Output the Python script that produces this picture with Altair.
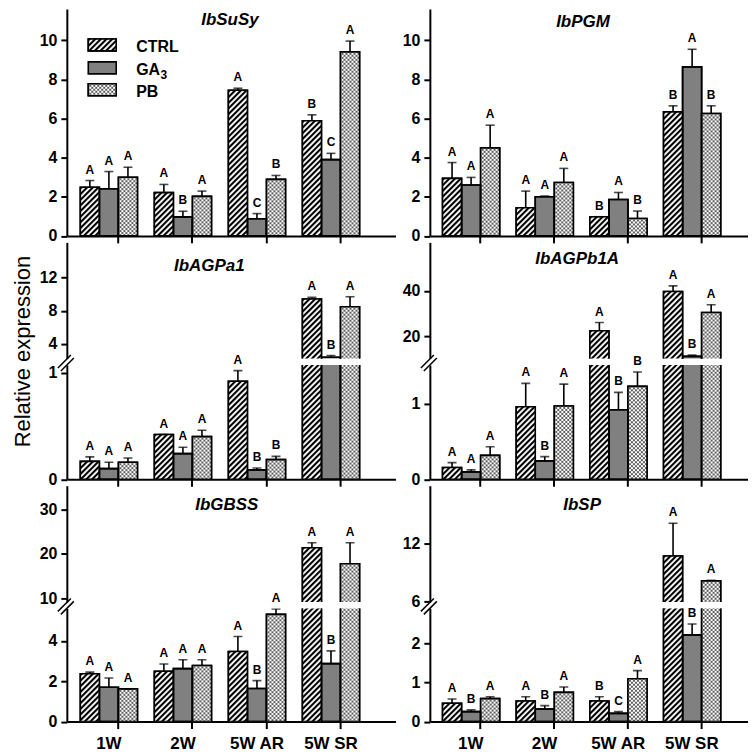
import base64
import altair as alt
import pandas as pd

# ---------------- data ----------------
groups = ["1W", "2W", "5W AR", "5W SR"]
series = ["CTRL", "GA3", "PB"]
legend_labels = ["CTRL", "GA", "PB"]
legend_subs = ["", "3", ""]
genes = ["IbSuSy", "IbPGM", "IbAGPa1", "IbAGPb1A", "IbGBSS", "IbSP"]

# IbSuSy
susy_ctrl = [2.49, 2.21, 7.45, 5.89]
susy_ga3 = [2.41, 0.97, 0.88, 3.90]
susy_pb = [3.00, 2.02, 2.89, 9.41]
susy_se_ctrl = [0.34, 0.42, 0.10, 0.30]
susy_se_ga3 = [0.88, 0.29, 0.26, 0.32]
susy_se_pb = [0.51, 0.27, 0.20, 0.55]
susy_let_ctrl = ["A", "A", "A", "B"]
susy_let_ga3 = ["A", "B", "C", "C"]
susy_let_pb = ["A", "A", "B", "A"]

# IbPGM
pgm_ctrl = [2.94, 1.44, 0.98, 6.34]
pgm_ga3 = [2.60, 2.00, 1.86, 8.64]
pgm_pb = [4.50, 2.73, 0.89, 6.26]
pgm_se_ctrl = [0.81, 0.85, 0.0, 0.31]
pgm_se_ga3 = [0.39, 0.04, 0.36, 0.90]
pgm_se_pb = [1.16, 0.72, 0.38, 0.39]
pgm_let_ctrl = ["A", "A", "B", "B"]
pgm_let_ga3 = ["A", "A", "A", "A"]
pgm_let_pb = ["A", "A", "B", "B"]

# IbAGPa1
agpa_ctrl = [0.168, 0.42, 0.92, 9.41]
agpa_ga3 = [0.10, 0.24, 0.088, 2.39]
agpa_pb = [0.16, 0.40, 0.184, 8.48]
agpa_se_ctrl = [0.042, 0.0, 0.10, 0.19]
agpa_se_ga3 = [0.06, 0.06, 0.018, 0.21]
agpa_se_pb = [0.04, 0.06, 0.031, 1.20]
agpa_let_ctrl = ["A", "A", "A", "A"]
agpa_let_ga3 = ["A", "A", "B", "B"]
agpa_let_pb = ["A", "A", "B", "A"]

# IbAGPb1A
agpb_ctrl = [0.155, 0.96, 22.5, 39.7]
agpb_ga3 = [0.098, 0.243, 0.92, 11.25]
agpb_pb = [0.316, 0.97, 1.23, 30.5]
agpb_se_ctrl = [0.065, 0.31, 3.6, 2.5]
agpb_se_ga3 = [0.026, 0.057, 0.23, 0.55]
agpb_se_pb = [0.114, 0.29, 0.19, 3.4]
agpb_let_ctrl = ["A", "A", "A", "A"]
agpb_let_ga3 = ["A", "B", "B", "B"]
agpb_let_pb = ["A", "A", "B", "A"]

# IbGBSS
gbss_ctrl = [2.37, 2.49, 3.47, 21.37]
gbss_ga3 = [1.70, 2.62, 1.64, 2.87]
gbss_pb = [1.62, 2.78, 5.31, 17.78]
gbss_se_ctrl = [0.08, 0.36, 0.74, 1.13]
gbss_se_ga3 = [0.46, 0.44, 0.39, 0.63]
gbss_se_pb = [0.0, 0.28, 0.27, 4.72]
gbss_let_ctrl = ["A", "A", "A", "A"]
gbss_let_ga3 = ["A", "A", "B", "B"]
gbss_let_pb = ["A", "A", "A", "A"]

# IbSP
sp_ctrl = [0.47, 0.53, 0.53, 10.75]
sp_ga3 = [0.255, 0.32, 0.21, 2.23]
sp_pb = [0.59, 0.75, 1.10, 8.15]
sp_se_ctrl = [0.11, 0.11, 0.11, 3.41]
sp_se_ga3 = [0.045, 0.09, 0.045, 0.28]
sp_se_pb = [0.05, 0.14, 0.21, 0.05]
sp_let_ctrl = ["A", "A", "B", "A"]
sp_let_ga3 = ["B", "B", "C", "B"]
sp_let_pb = ["A", "A", "A", "A"]

# ---------------- styling / layout ----------------
FONT = "Liberation Sans"
W = {"L": 329.5, "R": 319.0}
XP = {"L": (0.228, 0.3335, 0.273), "R": (0.2325, 0.2755, 0.312)}
FILLS = ["#ffffff", "#808080", "#ffffff"]
SW = 1.6

hatch_svg = ('<svg xmlns="http://www.w3.org/2000/svg"><defs>'
             '<pattern id="h" patternUnits="userSpaceOnUse" width="4" height="4" patternTransform="rotate(45)">'
             '<rect width="4" height="4" fill="#fff"/><rect width="2.1" height="4" fill="#000"/></pattern></defs>'
             '<rect width="100%" height="100%" fill="url(#h)"/></svg>')
net_svg = ('<svg xmlns="http://www.w3.org/2000/svg"><defs>'
           '<pattern id="n" patternUnits="userSpaceOnUse" width="4" height="4">'
           '<rect width="4" height="4" fill="#fff"/>'
           '<path d="M0,0L4,4M4,0L0,4" stroke="#4d4d4d" stroke-width="0.9"/></pattern></defs>'
           '<rect width="100%" height="100%" fill="url(#n)"/></svg>')


def data_url(svg):
    return "data:image/svg+xml;base64," + base64.b64encode(svg.encode()).decode()


PATTERNS = {"CTRL": data_url(hatch_svg), "PB": data_url(net_svg)}


def make_df(vals, ses, lets):
    rows = []
    for s, vl, el, ll in zip(series, vals, ses, lets):
        for g, v, e, l in zip(groups, vl, el, ll):
            rows.append({"group": g, "series": s, "value": v, "top": round(v + e, 4), "letter": l})
    return pd.DataFrame(rows)


def text_layer(txt, x, y, size, style="normal", weight="bold"):
    return alt.Chart(pd.DataFrame({"t": [txt]})).mark_text(
        font=FONT, fontSize=size, fontStyle=style, fontWeight=weight, align="center",
        baseline="alphabetic", color="black"
    ).encode(x=alt.value(x), y=alt.value(y), text="t:N")


def section(df, side, height, domain, ticks, xmode, clip=False, letter_test=None,
            ytitle=None, extras=()):
    pi, po, al = XP[side]
    xax = None
    if xmode is not None:
        xax = alt.Axis(bandPosition=2 / 3, labels=(xmode == "labels"), labelAngle=0,
                       labelFont=FONT, labelFontSize=17, labelFontWeight="bold",
                       labelColor="black", labelPadding=7, tickSize=7, tickWidth=2,
                       tickColor="black", domainWidth=2, domainColor="black",
                       grid=False, labelOverlap=False)
    X = alt.X("group:N", scale=alt.Scale(domain=groups, paddingInner=pi, paddingOuter=po, align=al),
              axis=xax, title=None)
    XO = alt.XOffset("series:N", scale=alt.Scale(domain=series, paddingInner=0, paddingOuter=0))
    ykw = dict(values=ticks, format="d", tickSize=6, tickWidth=2, tickColor="black", domainWidth=2,
               domainColor="black", labelFont=FONT, labelFontSize=16, labelFontWeight="bold",
               labelColor="black", labelPadding=4, labelFlush=False, labelOverlap=False, grid=False)
    if ytitle:
        ykw.update(titleX=-32.5, titleY=-14, titleAngle=270, titleAlign="center",
                   titleBaseline="bottom", titleFont=FONT, titleFontSize=22,
                   titleFontWeight="normal", titleColor="black")
    yax = alt.Axis(**ykw)
    ysc = alt.Scale(domain=domain, nice=False, zero=False)
    Yv = alt.Y("value:Q", scale=ysc, axis=yax, title=ytitle, stack=None)
    Yt = alt.Y("top:Q", scale=ysc, axis=yax, title=ytitle)
    base = alt.Chart(df)

    layers = [
        base.mark_bar(stroke="black", strokeWidth=SW, clip=clip).encode(
            x=X, xOffset=XO, y=Yv, y2=alt.Y2Datum(0),
            fill=alt.Fill("series:N", scale=alt.Scale(domain=series, range=FILLS), legend=None)),
    ]
    for s, url in PATTERNS.items():
        layers.append(
            base.transform_filter(alt.datum.series == s).mark_image(aspect=False, clip=clip).encode(
                x=X, xOffset=XO, y=Yv, y2=alt.Y2Datum(0), url=alt.value(url)))
    layers += [
        base.mark_bar(fill="white", fillOpacity=0, stroke="black", strokeWidth=SW, clip=clip).encode(
            x=X, xOffset=XO, y=Yv, y2=alt.Y2Datum(0)),
        base.mark_rule(color="black", strokeWidth=SW, clip=clip).encode(
            x=X, xOffset=XO, y=Yt, y2=alt.Y2("value:Q")),
        base.mark_tick(color="black", thickness=SW, size=9, orient="horizontal", clip=clip).encode(
            x=X, xOffset=XO, y=Yt),
    ]
    lb = base if letter_test is None else base.transform_filter(letter_test)
    layers.append(lb.mark_text(font=FONT, fontSize=12, fontWeight="bold", dy=-7,
                               baseline="alphabetic", color="black").encode(
        x=X, xOffset=XO, y=Yt, text="letter:N"))
    layers += list(extras)
    return alt.layer(*layers).properties(width=W[side], height=height)


def break_marks():
    d = alt.Chart(pd.DataFrame({"k": [0]}))
    return [
        d.mark_rule(color="black", strokeWidth=1.5).encode(
            x=alt.value(-9), y=alt.value(3), x2=alt.value(4), y2=alt.value(-10)),
        d.mark_rule(color="black", strokeWidth=1.5).encode(
            x=alt.value(-6), y=alt.value(6), x2=alt.value(7), y2=alt.value(-7)),
    ]


def legend_layers():
    out = []
    tops = [30, 53, 75]
    for s, lab, sub, fill, y0 in zip(series, legend_labels, legend_subs, FILLS, tops):
        d = alt.Chart(pd.DataFrame({"label": [lab], "sub": [sub]}))
        out.append(d.mark_rect(fill=fill, stroke="black", strokeWidth=SW).encode(
            x=alt.value(21.5), x2=alt.value(49.5), y=alt.value(y0), y2=alt.value(y0 + 12)))
        if s in PATTERNS:
            out.append(d.mark_image(aspect=False).encode(
                x=alt.value(21.5), x2=alt.value(49.5), y=alt.value(y0), y2=alt.value(y0 + 12),
                url=alt.value(PATTERNS[s])))
            out.append(d.mark_rect(fill="white", fillOpacity=0, stroke="black", strokeWidth=SW).encode(
                x=alt.value(21.5), x2=alt.value(49.5), y=alt.value(y0), y2=alt.value(y0 + 12)))
        out.append(d.mark_text(font=FONT, fontSize=16, fontWeight="bold", align="left",
                               baseline="alphabetic", color="black").encode(
            x=alt.value(69.5), y=alt.value(y0 + 13), text="label:N"))
        if sub:
            out.append(d.mark_text(font=FONT, fontSize=12, fontWeight="bold", align="left",
                                   baseline="alphabetic", color="black").encode(
                x=alt.value(94), y=alt.value(y0 + 17), text="sub:N"))
    return out


susy = make_df([susy_ctrl, susy_ga3, susy_pb], [susy_se_ctrl, susy_se_ga3, susy_se_pb],
               [susy_let_ctrl, susy_let_ga3, susy_let_pb])
pgm = make_df([pgm_ctrl, pgm_ga3, pgm_pb], [pgm_se_ctrl, pgm_se_ga3, pgm_se_pb],
              [pgm_let_ctrl, pgm_let_ga3, pgm_let_pb])
agpa = make_df([agpa_ctrl, agpa_ga3, agpa_pb], [agpa_se_ctrl, agpa_se_ga3, agpa_se_pb],
               [agpa_let_ctrl, agpa_let_ga3, agpa_let_pb])
agpb = make_df([agpb_ctrl, agpb_ga3, agpb_pb], [agpb_se_ctrl, agpb_se_ga3, agpb_se_pb],
               [agpb_let_ctrl, agpb_let_ga3, agpb_let_pb])
gbss = make_df([gbss_ctrl, gbss_ga3, gbss_pb], [gbss_se_ctrl, gbss_se_ga3, gbss_se_pb],
               [gbss_let_ctrl, gbss_let_ga3, gbss_let_pb])
sp = make_df([sp_ctrl, sp_ga3, sp_pb], [sp_se_ctrl, sp_se_ga3, sp_se_pb],
             [sp_let_ctrl, sp_let_ga3, sp_let_pb])

H1, HU2, HL2, HU3, HL3 = 227.5, 116.5, 114.5, 116.5, 113.5

# lower-section domain tops
agpa_lt, agpb_lt, gbss_lt, sp_lt = 1.072, 1.5126, 5.605, 2.91

cells = [
    section(susy, "L", H1, [0, 11.6], [0, 2, 4, 6, 8, 10], "ticks",
            extras=[text_layer(genes[0], 163.5, 16, 17, "italic")] + legend_layers()),
    section(pgm, "R", H1, [0, 11.6], [0, 2, 4, 6, 8, 10], "ticks",
            extras=[text_layer(genes[1], 153.5, 18.5, 17, "italic")]),
    section(agpa, "L", HU2, [2.234, 16.23], [4, 8, 12], None, clip=True,
            letter_test=f"datum.top > {agpa_lt}",
            extras=[text_layer(genes[2], 142.8, 28.5, 17, "italic")]),
    section(agpb, "R", HU2, [10.28, 61.3], [20, 40], None, clip=True,
            letter_test=f"datum.top > {agpb_lt}",
            extras=[text_layer(genes[3], 147.7, 22, 17, "italic")]),
    section(agpa, "L", HL2, [0, agpa_lt], [0, 1], "ticks", clip=True,
            letter_test=f"datum.top <= {agpa_lt}", ytitle="Relative expression",
            extras=break_marks()),
    section(agpb, "R", HL2, [0, agpb_lt], [0, 1], "ticks", clip=True,
            letter_test=f"datum.top <= {agpb_lt}", extras=break_marks()),
    section(gbss, "L", HU3, [9.17, 35.35], [10, 20, 30], None, clip=True,
            letter_test=f"datum.top > {gbss_lt}",
            extras=[text_layer(genes[4], 160.3, 24.8, 17, "italic")]),
    section(sp, "R", HU3, [5.95, 18.08], [6, 12], None, clip=True,
            letter_test=f"datum.top > {sp_lt}",
            extras=[text_layer(genes[5], 152.7, 24.4, 17, "italic")]),
    section(gbss, "L", HL3, [0, gbss_lt], [0, 2, 4], "labels", clip=True,
            letter_test=f"datum.top <= {gbss_lt}", extras=break_marks()),
    section(sp, "R", HL3, [0, sp_lt], [0, 1, 2], "labels", clip=True,
            letter_test=f"datum.top <= {sp_lt}", extras=break_marks()),
]

chart = alt.concat(*cells, columns=2, spacing={"row": 6, "column": 34},
                   bounds="flush", align="each").properties(
    padding={"left": 3, "top": 0, "right": 0, "bottom": 0}).configure_view(stroke=None)

chart.save("out.html", embed_options={"renderer": "svg", "actions": False})
